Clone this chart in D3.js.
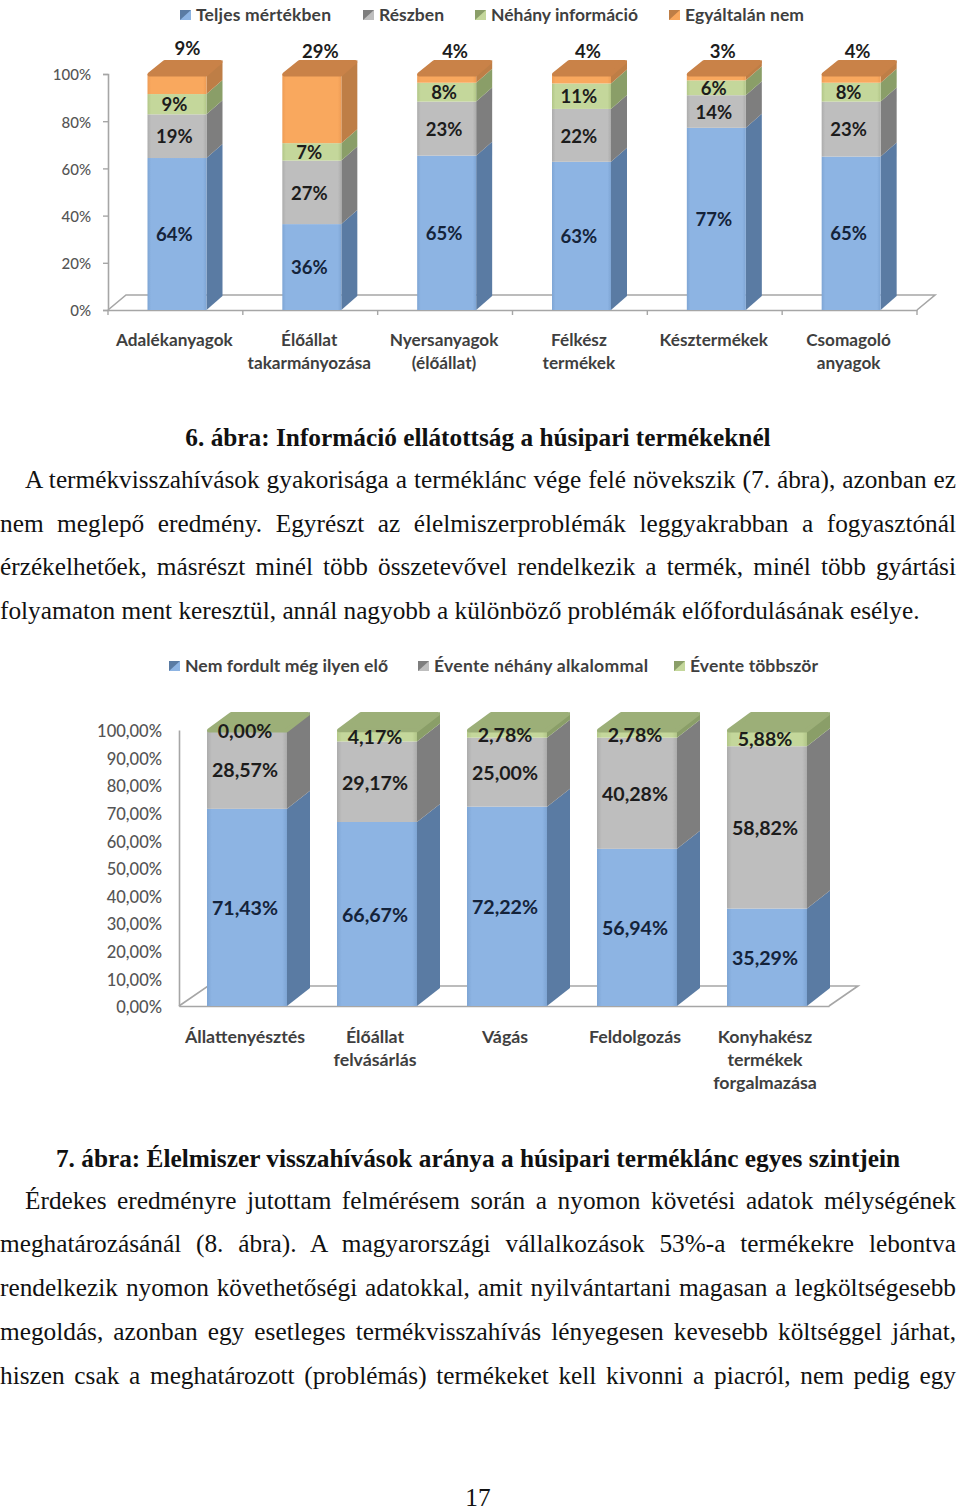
<!DOCTYPE html>
<html><head><meta charset="utf-8">
<script src="https://cdnjs.cloudflare.com/ajax/libs/d3/7.8.5/d3.min.js"></script>
<style>
html,body{margin:0;padding:0;background:#fff}
svg{display:block}
.cat,.leg,.val{font-family:Lato,"Open Sans",sans-serif}
.body{font-family:"Liberation Serif",serif;font-size:25.3px;fill:#111}
</style></head><body>
<svg id="page" width="960" height="1507"></svg>
<script>
// ---- Chart 1 data (segment heights; labels show them rounded)
const c1Categories = ["Adalékanyagok","Élőállat\ntakarmányozása","Nyersanyagok\n(élőállat)","Félkész\ntermékek","Késztermékek","Csomagoló\nanyagok"];
const c1Series = ["Teljes mértékben","Részben","Néhány információ","Egyáltalán nem"];
const c1Teljes = [64.4,36.4,65.4,62.8,77.2,65.0];
const c1Reszben = [18.5,26.9,22.9,22.4,13.8,23.3];
const c1Nehany = [8.6,7.4,8.0,10.8,6.3,8.0];
const c1Egyaltalan = [8.5,29.3,3.7,4.0,2.7,3.7];
const c1Ticks = [0,20,40,60,80,100];
// ---- Chart 2 data
const c2Categories = ["Állattenyésztés","Élőállat\nfelvásárlás","Vágás","Feldolgozás","Konyhakész\ntermékek\nforgalmazása"];
const c2Series = ["Nem fordult még ilyen elő","Évente néhány alkalommal","Évente többször"];
const c2Nem = [71.43,66.67,72.22,56.94,35.29];
const c2Neh = [28.57,29.17,25.00,40.28,58.82];
const c2Tobb = [0.00,4.17,2.78,2.78,5.88];
const c2Ticks = [0,10,20,30,40,50,60,70,80,90,100];
// ---- Text
const title1 = "6. ábra: Információ ellátottság a húsipari termékeknél";
const para1 = ["A termékvisszahívások gyakorisága a terméklánc vége felé növekszik (7. ábra), azonban ez",
"nem meglepő eredmény. Egyrészt az élelmiszerproblémák leggyakrabban a fogyasztónál",
"érzékelhetőek, másrészt minél több összetevővel rendelkezik a termék, minél több gyártási",
"folyamaton ment keresztül, annál nagyobb a különböző problémák előfordulásának esélye."];
const title2 = "7. ábra: Élelmiszer visszahívások aránya a húsipari terméklánc egyes szintjein";
const para2 = ["Érdekes eredményre jutottam felmérésem során a nyomon követési adatok mélységének",
"meghatározásánál (8. ábra). A magyarországi vállalkozások 53%-a termékekre lebontva",
"rendelkezik nyomon követhetőségi adatokkal, amit nyilvántartani magasan a legköltségesebb",
"megoldás, azonban egy esetleges termékvisszahívás lényegesen kevesebb költséggel járhat,",
"hiszen csak a meghatározott (problémás) termékeket kell kivonni a piacról, nem pedig egy"];
const pageNumber = "17";

const colors = {
  blue:{front:"#8DB4E3",edge:"#7EA5D4",side:"#5A7BA3",top:"#6E8FBB"},
  gray:{front:"#BEBEBE",edge:"#ACACAC",side:"#7E7E7E",top:"#999"},
  green:{front:"#C4D79B",edge:"#B2C688",side:"#8A9E68",top:"#9CAF78"},
  orange:{front:"#F9A85E",edge:"#EE9C55",side:"#BE7E46",top:"#C98248"}
};
const svg = d3.select("#page");
const defs = svg.append("defs");
Object.entries(colors).forEach(([k,c])=>{
  const g = defs.append("linearGradient").attr("id","g-"+k);
  [[0,c.edge],[0.06,c.front],[0.94,c.front],[1,c.edge]].forEach(([o,col])=>g.append("stop").attr("offset",o).attr("stop-color",col));
});

function chart(o){
  const g = svg.append("g");
  const rows = o.cats.map((name,i)=>{const r={name};o.series.forEach((k,j)=>r[k]=o.vals[j][i]);return r;});
  const stack = d3.stack().keys(o.series)(rows);
  const y = d3.scaleLinear().domain([0,100]).range([o.y0,o.y100]);
  const x = d3.scaleBand().domain(o.cats).range([o.x0,o.x1]);
  const dx=o.dx, dy=o.dy;
  const line = d3.line();
  const gridStroke="#a6a6a6";
  g.append("path").attr("fill","none").attr("stroke",gridStroke).attr("stroke-width",1.6)
    .attr("d",line([[o.x0,o.y0],[o.x0+o.floorDx,o.y0-o.floorDy],[o.x1+o.floorDx,o.y0-o.floorDy],[o.x1,o.y0]]));
  const ax = d3.axisLeft(y).tickValues(o.ticks).tickFormat(o.tickFmt).tickSize(o.tickLen).tickPadding(o.tickPad);
  const ya = g.append("g").attr("transform",`translate(${o.x0},0)`).call(ax);
  ya.select(".domain").attr("stroke",gridStroke).attr("stroke-width",1.6);
  ya.selectAll(".tick line").attr("stroke",gridStroke).attr("stroke-width",1.4);
  ya.selectAll("text").attr("class","cat").attr("fill","#555").attr("font-size",o.tickSize).attr("font-weight",500)
    .attr("transform",`translate(0,${o.tickDy})`);
  const xa = g.append("g").attr("transform",`translate(0,${o.y0})`).call(d3.axisBottom(x).tickValues([]).tickSize(0));
  xa.select(".domain").attr("stroke",gridStroke).attr("stroke-width",1.6);
  if(o.xTicks){ g.selectAll("line.xt").data(o.cats.concat("end")).join("line").attr("class","xt")
    .attr("x1",(d,i)=>o.x0+i*x.step()).attr("x2",(d,i)=>o.x0+i*x.step()).attr("y1",o.y0).attr("y2",o.y0+5)
    .attr("stroke",gridStroke).attr("stroke-width",1.4); }
  const bx = n=>x(n)+o.barOff;
  stack.forEach((s,si)=>{
    const col = colors[o.colorKeys[si]];
    s.forEach(d=>{
      const l=bx(d.data.name), r=l+o.barW, t=y(d[1]), b=y(d[0]);
      g.append("path").attr("fill",col.side).attr("d",line([[r,b],[r+dx,b-dy],[r+dx,t-dy],[r,t]])+"Z");
      g.append("rect").attr("x",l).attr("y",t).attr("width",o.barW).attr("height",Math.max(0,b-t)).attr("fill",`url(#g-${o.colorKeys[si]})`);
    });
  });
  const topS = stack[stack.length-1], topCol = colors[o.colorKeys[stack.length-1]];
  topS.forEach(d=>{
    const l=bx(d.data.name), r=l+o.barW, t=y(d[1]), m=2;
    g.append("path").attr("fill",topCol.top).attr("stroke",topCol.top).attr("stroke-width",2*m).attr("stroke-linejoin","round")
      .attr("d",line([[l+m,t+m*0.2],[l+dx+m*0.6,t-dy+m],[r+dx-m,t-dy+m],[r-m*0.2,t+m*0.2]])+"Z");
  });
  stack.forEach((s,si)=>{
    s.forEach((d,i)=>{
      const raw=o.vals[si][i], n=d.data.name;
      const isTopOut = o.topOutside && si===stack.length-1;
      const cx = x(n)+x.bandwidth()/2+(isTopOut ? o.topLabelDx[i] : o.labelDx);
      const cy = isTopOut ? o.topLabelY[i] : (y(d[0])+y(d[1]))/2+o.labelDy;
      g.append("text").attr("class","val").attr("x",cx).attr("y",cy).attr("dy","0.36em").attr("text-anchor","middle")
        .attr("font-size",o.valSize).attr("font-weight",700).attr("fill",si===0?"#14233a":"#1c1c1c").text(o.valFmt(raw));
    });
  });
  o.cats.forEach(n=>{
    n.split("\n").forEach((t,i)=>{
      g.append("text").attr("class","cat").attr("x",x(n)+x.bandwidth()/2+o.catDx).attr("y",o.catY+i*o.catLH).attr("dy","0.36em")
        .attr("text-anchor","middle").attr("font-size",o.catSize).attr("font-weight",700).attr("fill","#3f3f3f").text(t);
    });
  });
  o.series.forEach((t,i)=>{
    const sx=o.legX[i], k=o.colorKeys[i];
    g.append("rect").attr("x",sx).attr("y",o.legY-5).attr("width",11).attr("height",10).attr("fill",colors[k].side);
    g.append("path").attr("fill",colors[k].front).attr("d",line([[sx,o.legY+5],[sx+11,o.legY-5],[sx+11,o.legY+5]])+"Z");
    g.append("text").attr("class","leg").attr("x",sx+16).attr("y",o.legY).attr("dy","0.36em").attr("font-size",o.legSize)
      .attr("textLength",o.legW[i]).attr("lengthAdjust","spacing")
      .attr("font-weight",700).attr("fill","#3f3f3f").text(t);
  });
}

chart({cats:c1Categories,vals:[c1Teljes,c1Reszben,c1Nehany,c1Egyaltalan],series:c1Series,
  colorKeys:["blue","gray","green","orange"],x0:108,x1:917,y0:310,y100:74,dx:16,dy:14,floorDx:18,floorDy:15,barOff:39.5,barW:59,
  ticks:c1Ticks,tickFmt:d=>d+"%",tickLen:5,tickPad:12,tickSize:15,tickDy:1,xTicks:true,
  valFmt:d=>Math.round(d)+"%",valSize:18.5,labelDx:-1,labelDy:0.5,topOutside:true,topLabelDx:[12,10,10,8,8,8],topLabelY:[48,51,51,51,51,51],
  catY:340,catLH:23,catSize:17.2,catDx:-1,legX:[180,363,475,669],legW:[135,65,147,119],legY:15,legSize:17.5});

chart({cats:c2Categories,vals:[c2Nem,c2Neh,c2Tobb],series:c2Series,
  colorKeys:["blue","gray","green"],x0:179,x1:829,y0:1006,y100:730,dx:23,dy:18,floorDx:29,floorDy:20,barOff:28,barW:80,
  ticks:c2Ticks,tickFmt:d=>d.toFixed(2).replace(".",",")+"%",tickLen:0,tickPad:17,tickSize:16.5,tickDy:1.5,xTicks:false,
  valFmt:d=>d.toFixed(2).replace(".",",")+"%",valSize:19.6,labelDx:1,labelDy:1,topOutside:false,
  catY:1037,catLH:22.7,catSize:17.8,catDx:1,legX:[169,418,674],legW:[203,214,128],legY:666,legSize:17.6});

function txt(s,x,y,anchor,bold){
  return svg.append("text").attr("class","body").attr("x",x).attr("y",y).attr("dy","0.33em")
    .attr("text-anchor",anchor||"start").attr("font-weight",bold?"bold":"normal").text(s);
}
function just(s,x,y,right,last){
  const t=txt(s,x,y);
  if(last) return t;
  const w=t.node().getComputedTextLength(), n=s.split(" ").length-1;
  t.attr("word-spacing",(right-x-w)/n);
  return t;
}
txt(title1,478,438,"middle",true);
const p1Y=[480,524,567,611], p1X=[25,0,0,0];
para1.forEach((s,i)=>just(s,p1X[i],p1Y[i],956,i===para1.length-1));
txt(title2,478,1159,"middle",true);
const p2Y=[1201,1244,1288,1332,1376], p2X=[25,0,0,0,0];
para2.forEach((s,i)=>just(s,p2X[i],p2Y[i],956,false));
txt(pageNumber,478,1498,"middle");
</script>
</body></html>
